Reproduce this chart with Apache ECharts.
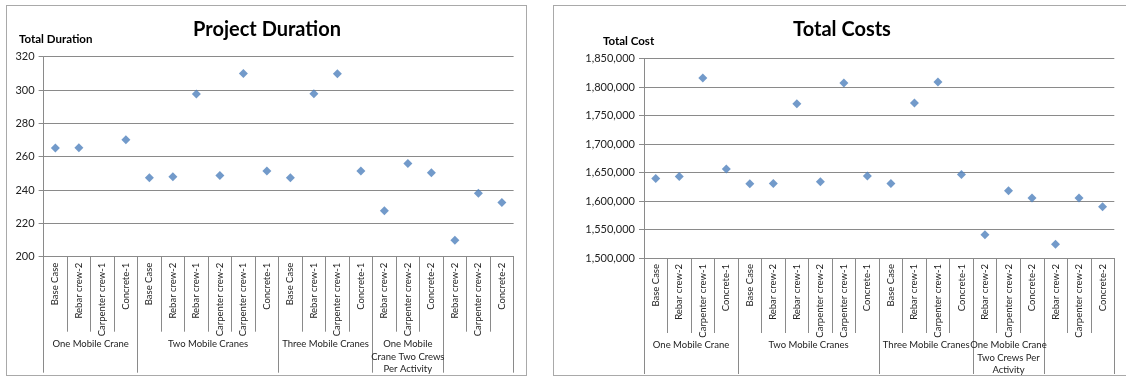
<!DOCTYPE html>
<html><head><meta charset="utf-8">
<script src="https://cdn.jsdelivr.net/npm/echarts@6/dist/echarts.min.js"></script>
<style>
html,body{margin:0;padding:0;background:#fff;width:1126px;height:380px;overflow:hidden;}
.box{position:absolute;box-sizing:border-box;border:1px solid #a9a9a9;background:#fff;}
#boxL{left:6px;top:5px;width:521px;height:371px;}
#boxR{left:553px;top:5px;width:574px;height:371px;}
.box > div{width:100%;height:100%;}
</style></head>
<body>
<div class="box" id="boxL"><div id="chartL"></div></div>
<div class="box" id="boxR"><div id="chartR"></div></div>
<script>
const categories = ['Base Case','Rebar crew-2','Carpenter crew-1','Concrete-1',
  'Base Case','Rebar crew-2','Rebar crew-1','Carpenter crew-2','Carpenter crew-1','Concrete-1',
  'Base Case','Rebar crew-1','Carpenter crew-1','Concrete-1',
  'Rebar crew-2','Carpenter crew-2','Concrete-2',
  'Rebar crew-2','Carpenter crew-2','Concrete-2'];
const groupSizes = [4, 6, 4, 3, 3];
const durationGroups = ['One Mobile Crane','Two Mobile Cranes','Three Mobile Cranes',
  'One Mobile\nCrane Two Crews\nPer Activity','Two Mobile\nCranes Two\nCrews Per Activity'];
const costGroups = ['One Mobile Crane','Two Mobile Cranes','Three Mobile Cranes',
  'One Mobile Crane\nTwo Crews Per\nActivity','Two Mobile\nCranes Two\nCrews Per Activity'];
const durationValues = [265.2, 265.4, null, 270.2,
  247.4, 248.0, 297.6, 248.7, 309.9, 251.4,
  247.4, 297.7, 309.7, 251.4,
  227.5, 255.9, 250.4,
  209.8, 238.1, 232.5];
const costValues = [1639500, 1643000, 1816300, 1656400,
  1630200, 1630800, 1770900, 1633700, 1807500, 1644200,
  1630800, 1772000, 1809300, 1646500,
  1540700, 1618000, 1605200,
  1524000, 1605200, 1590100];
const durationAxis = {min: 200, max: 320, interval: 20};
const costAxis = {min: 1500000, max: 1850000, interval: 50000};

const FONT = 'Lato';
const GRID_COLOR = '#8a8a8a';
const TEXT_COLOR = '#222';

function buildOption(cfg) {
  const nHalf = categories.length * 2;
  const halfCats = [];
  for (let i = 0; i <= nHalf; i++) halfCats.push(String(i));
  const boundaries = new Set();
  const centerLabels = {};
  let s = 0;
  groupSizes.forEach((n, g) => {
    boundaries.add(2 * s);
    centerLabels[2 * s + n] = cfg.groups[g];
    s += n;
  });
  boundaries.add(2 * s);

  return {
    animation: false,
    title: [
      {text: cfg.title, left: cfg.titleLeft, top: cfg.titleTop, textAlign: 'center',
       textStyle: {fontFamily: FONT, fontWeight: 'bold', fontSize: 20, color: '#000'}},
      {text: cfg.axisName, left: cfg.nameLeft, top: cfg.nameTop,
       textStyle: {fontFamily: FONT, fontWeight: 'bold', fontSize: 11.5, color: '#000'}}
    ],
    grid: {left: cfg.grid.left, top: cfg.grid.top, width: cfg.grid.width, height: cfg.grid.height,
           containLabel: false, outerBoundsMode: 'none'},
    xAxis: [
      {
        type: 'category', data: categories, position: 'bottom', boundaryGap: true,
        axisLine: {show: true, lineStyle: {color: GRID_COLOR, width: 1}},
        axisTick: {show: true, interval: 0, length: 75, lineStyle: {color: GRID_COLOR, width: 1}},
        axisLabel: {interval: 0, rotate: 90, margin: 6, fontFamily: FONT, fontSize: 9.5, color: TEXT_COLOR},
        splitLine: {show: false}
      },
      {
        type: 'category', data: halfCats, position: 'bottom', offset: 0, boundaryGap: false,
        axisLine: {show: false},
        axisTick: {show: true, length: 116, interval: (i) => boundaries.has(i),
                   lineStyle: {color: GRID_COLOR, width: 1}},
        axisLabel: {show: true, margin: 81, interval: (i) => centerLabels[i] !== undefined,
                    formatter: (v, i) => centerLabels[i] || '',
                    fontFamily: FONT, fontSize: 9.5, lineHeight: 12.5, color: TEXT_COLOR, align: 'center'},
        splitLine: {show: false}
      }
    ],
    yAxis: {
      type: 'value', min: cfg.axis.min, max: cfg.axis.max, interval: cfg.axis.interval,
      axisLine: {show: true, lineStyle: {color: GRID_COLOR, width: 1}},
      axisTick: {show: true, length: 5, lineStyle: {color: GRID_COLOR}},
      axisLabel: {margin: 9, fontFamily: FONT, fontSize: 11, color: TEXT_COLOR,
                  formatter: (v) => v.toLocaleString('en-US')},
      splitLine: {show: true, lineStyle: {color: GRID_COLOR, width: 1}}
    },
    series: [{
      type: 'scatter', xAxisIndex: 0, data: cfg.values,
      symbol: 'diamond', symbolSize: [9, 9],
      itemStyle: {color: '#4f81bd'}
    }]
  };
}

const chartL = echarts.init(document.getElementById('chartL'), null, {renderer: 'canvas'});
chartL.setOption(buildOption({
  title: 'Project Duration', titleLeft: 255, titleTop: 9,
  axisName: 'Total Duration', nameLeft: 7, nameTop: 22.5,
  grid: {left: 36.6, top: 50.7, width: 470, height: 200},
  axis: durationAxis, groups: durationGroups, values: durationValues
}));

const chartR = echarts.init(document.getElementById('chartR'), null, {renderer: 'canvas'});
chartR.setOption(buildOption({
  title: 'Total Costs', titleLeft: 283, titleTop: 9,
  axisName: 'Total Cost', nameLeft: 44, nameTop: 24.5,
  grid: {left: 90, top: 52.7, width: 470.3, height: 199.3},
  axis: costAxis, groups: costGroups, values: costValues
}));
</script>
</body></html>
